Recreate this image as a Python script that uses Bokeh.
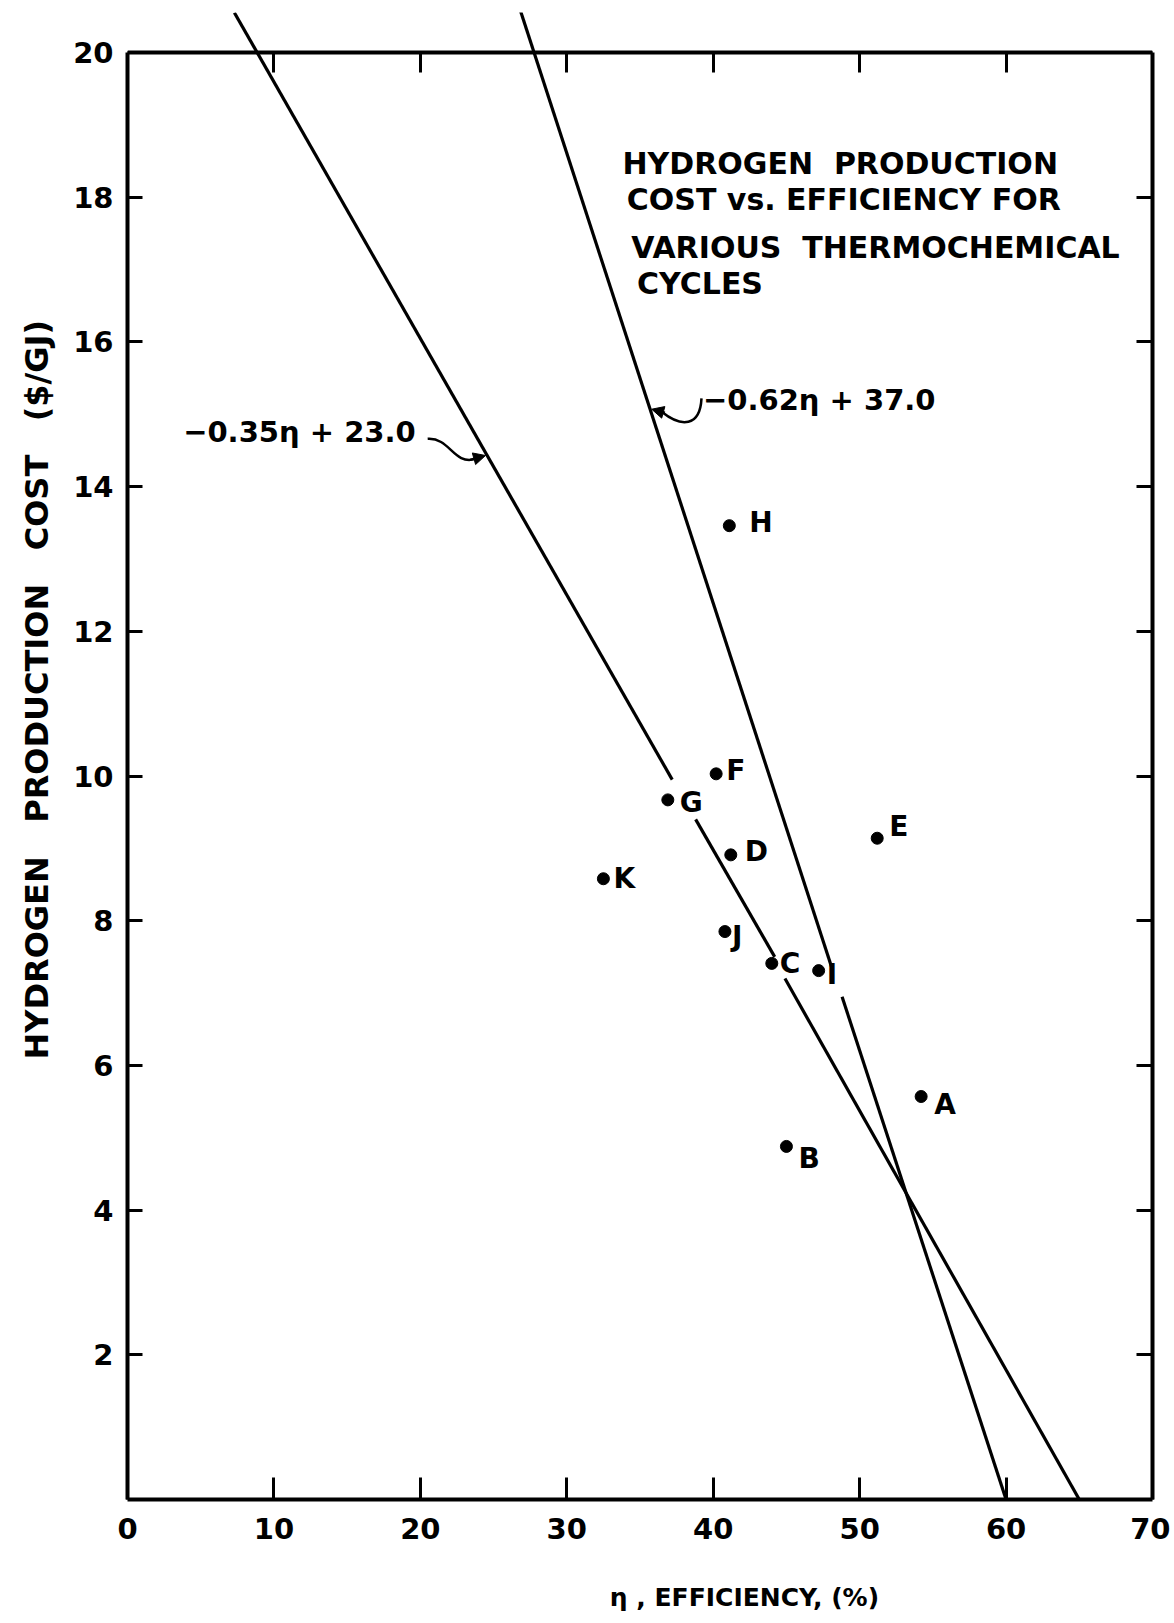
from bokeh.plotting import figure
from bokeh.models import (Range1d, LinearAxis, FixedTicker, ColumnDataSource,
                          Label, Arrow, NormalHead, Title)
from bokeh.core.properties import value
from bokeh.embed import file_html
from bokeh.resources import INLINE

# ---------------- data ----------------
cycles = ["A", "B", "C", "D", "E", "F", "G", "H", "I", "J", "K"]
efficiency = [54.2, 45.0, 44.0, 41.2, 51.2, 40.2, 36.9, 41.1, 47.2, 40.8, 32.5]
cost = [5.57, 4.88, 7.41, 8.91, 9.14, 10.03, 9.67, 13.46, 7.31, 7.85, 8.58]

# hand-drawn fit lines (segments, broken where point labels sit)
fit1_label = "\u22120.35\u03b7 + 23.0"
fit1_eta_start = [7.3, 38.8, 44.9]
fit1_eta_end = [37.2, 44.2, 65.0]
fit1_cost_start = [20.55, 9.40, 7.20]
fit1_cost_end = [9.95, 7.50, 0.0]

fit2_label = "\u22120.62\u03b7 + 37.0"
fit2_eta_start = [26.8, 48.8]
fit2_eta_end = [48.1, 60.0]
fit2_cost_start = [20.6, 6.95]
fit2_cost_end = [7.35, 0.0]

x_ticks = [0, 10, 20, 30, 40, 50, 60, 70]
y_ticks = [2, 4, 6, 8, 10, 12, 14, 16, 18, 20]

NB = "\u00a0"
title_lines = ["HYDROGEN" + NB + " PRODUCTION", "COST vs. EFFICIENCY FOR",
               "VARIOUS" + NB + " THERMOCHEMICAL", "CYCLES"]
y_title = ("HYDROGEN" + NB + NB + " PRODUCTION" + NB + NB + " COST" + NB + NB + " ($/GJ)")
x_title = "\u03b7 , EFFICIENCY, (%)"

# label offsets (style) in screen px
lab_dx = [13, 12, 8, 14, 12, 10, 12, 20, 8, 7, 10]
lab_dy = [8, 12, 0, -3, -12, -3, 3, -3, 4, 5, 0]

FONT = value("DejaVu Sans")

p = figure(width=1170, height=1622, x_range=Range1d(0, 70), y_range=Range1d(0, 20.553),
           output_backend="svg", toolbar_location=None,
           x_axis_location=None, y_axis_location=None,
           min_border_left=126, min_border_right=18,
           min_border_top=12, min_border_bottom=123)
p.outline_line_color = None
p.background_fill_color = "white"
p.border_fill_color = "white"
for g in p.grid:
    g.grid_line_color = None


def make_axis(ticks, tick_in, show_labels, bounds, fixed=None):
    ax = LinearAxis(ticker=FixedTicker(ticks=ticks), bounds=bounds)
    if fixed is not None:
        ax.fixed_location = fixed
    ax.axis_line_width = 4
    ax.axis_line_color = "black"
    ax.major_tick_in = tick_in
    ax.major_tick_out = 0
    ax.major_tick_line_width = 3
    ax.major_tick_line_color = "black"
    ax.minor_tick_line_color = None
    if show_labels:
        ax.major_label_text_font = "DejaVu Sans"
        ax.major_label_text_font_style = "bold"
        ax.major_label_text_font_size = "29px"
        ax.major_label_text_color = "black"
        ax.major_label_standoff = 14
    else:
        ax.major_label_overrides = {t: "" for t in ticks}
        ax.major_label_text_font_size = "1px"
        ax.major_label_standoff = 0
    return ax


xb = make_axis(x_ticks, 22, True, (0, 70))
xb.major_label_standoff = 18
# axis title: centred on the frame, so pad on the left to sit where the original does
xb.axis_label = NB * 24 + x_title
xb.axis_label_text_font = "DejaVu Sans"
xb.axis_label_text_font_style = "bold"
xb.axis_label_text_font_size = "25px"
xb.axis_label_text_color = "black"
xb.axis_label_standoff = 41
p.add_layout(xb, "below")
p.add_layout(make_axis(x_ticks, 20, False, (0, 70), fixed=20), "above")
p.add_layout(make_axis(y_ticks, 15, True, (0, 20)), "left")
p.add_layout(make_axis(y_ticks, 16, False, (0, 20)), "right")

# y axis title (side panel)
p.add_layout(Title(text=y_title, align="left", offset=440, standoff=30,
                   text_font="DejaVu Sans", text_font_style="bold",
                   text_font_size="32px", text_color="black"), "left")

# fit lines
src1 = ColumnDataSource(dict(x0=fit1_eta_start, y0=fit1_cost_start,
                             x1=fit1_eta_end, y1=fit1_cost_end))
src2 = ColumnDataSource(dict(x0=fit2_eta_start, y0=fit2_cost_start,
                             x1=fit2_eta_end, y1=fit2_cost_end))
for s in (src1, src2):
    p.segment("x0", "y0", "x1", "y1", source=s, line_width=3.2, line_color="black")

# data points
src = ColumnDataSource(dict(x=efficiency, y=cost, t=cycles, dx=lab_dx, dy=lab_dy))
p.scatter("x", "y", source=src, size=12, color="black")
p.text("x", "y", text="t", source=src, x_offset="dx", y_offset="dy",
       text_font=FONT, text_font_style="bold", text_font_size="28px",
       text_baseline="middle", text_align="left", text_color="black")

# equation labels with curved pointers
p.add_layout(Label(x=3.8, y=14.76, text=fit1_label, text_font="DejaVu Sans",
                   text_font_style="bold", text_font_size="29px", text_color="black",
                   text_baseline="middle", text_align="left"))
p.add_layout(Label(x=39.3, y=15.2, text=fit2_label, text_font="DejaVu Sans",
                   text_font_style="bold", text_font_size="29px", text_color="black",
                   text_baseline="middle", text_align="left"))

p.bezier(x0=[20.5, 39.2], y0=[14.66, 15.22], x1=[23.7, 36.5], y1=[14.38, 15.03],
         cx0=[22.0, 39.1], cy0=[14.68, 14.82], cx1=[22.3, 37.8], cy1=[14.30, 14.82],
         line_width=2.5, line_color="black")
p.add_layout(Arrow(end=NormalHead(size=12, fill_color="black", line_color="black"),
                   x_start=23.4, y_start=14.37, x_end=24.45, y_end=14.43,
                   line_width=2.5))
p.add_layout(Arrow(end=NormalHead(size=12, fill_color="black", line_color="black"),
                   x_start=36.7, y_start=15.02, x_end=35.8, y_end=15.07,
                   line_width=2.5))

# title block
title_x = [33.8, 34.1, 34.4, 34.8]
title_y = [18.46, 17.97, 17.31, 16.81]
for tx, ty, tl in zip(title_x, title_y, title_lines):
    p.add_layout(Label(x=tx, y=ty, text=tl, text_font="DejaVu Sans",
                       text_font_style="bold", text_font_size="30px", text_color="black",
                       text_baseline="middle", text_align="left"))

open("out.html", "w").write(file_html(p, INLINE))
